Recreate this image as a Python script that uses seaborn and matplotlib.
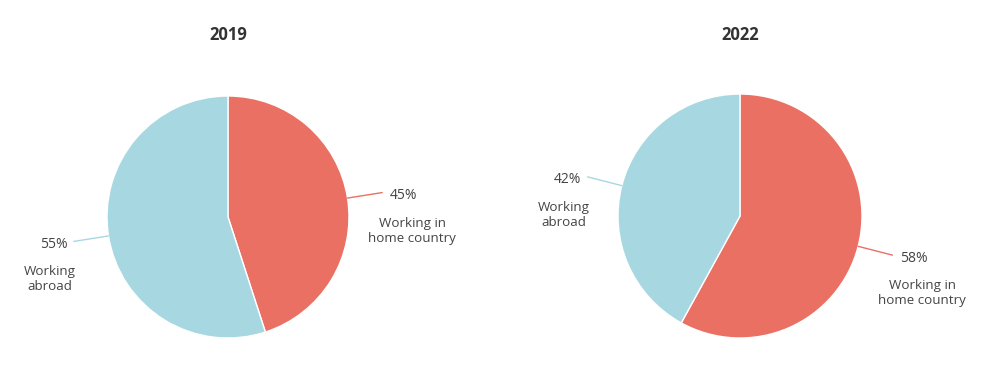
import numpy as np
import matplotlib
matplotlib.use("Agg")
import matplotlib.pyplot as plt
import seaborn as sns

# Share of workers by place of work
years = ["2019", "2022"]
categories = ["Working in\nhome country", "Working\nabroad"]
home_share = [45, 58]
abroad_share = [55, 42]

sns.set_theme(style="white")
plt.rcParams["font.family"] = ["Open Sans", "DejaVu Sans"]

palette = sns.color_palette(["#EA7064", "#A7D8E2"])
title_color = "#333333"
text_color = "#444444"

W, H = 994, 367
fig = plt.figure(figsize=(W / 100, H / 100), dpi=100)
fig.patch.set_facecolor("white")

# pixel layout of each panel: (left, right, centre x, centre y from top, radius)
panels = [
    (0, 490, 228, 217, 121),
    (497, 994, 740, 216, 122),
]

for i, (year, (x0, x1, cx, cy, r)) in enumerate(zip(years, panels)):
    ax = fig.add_axes([x0 / W, 0, (x1 - x0) / W, 1])
    cy_b = H - cy
    xlim = ((x0 - cx) / r, (x1 - cx) / r)
    ylim = (-cy_b / r, (H - cy_b) / r)

    values = [home_share[i], abroad_share[i]]
    wedges, _ = ax.pie(
        values,
        colors=palette,
        startangle=90,
        counterclock=False,
        radius=1,
        wedgeprops=dict(edgecolor="white", linewidth=1),
    )
    ax.set_xlim(*xlim)
    ax.set_ylim(*ylim)
    ax.set_aspect("auto")
    ax.axis("off")

    ax.text(0, ylim[1] - 35 / r, year, ha="center", va="center",
            fontsize=12, fontweight="bold", color=title_color)

    for w, val, cat, col in zip(wedges, values, categories, palette):
        ang = np.deg2rad((w.theta1 + w.theta2) / 2)
        p0 = np.array([np.cos(ang), np.sin(ang)])
        p1 = p0 * 1.29
        ax.plot([p0[0], p1[0]], [p0[1], p1[1]], color=col, lw=1)
        right = p1[0] >= 0
        if right:
            ax.annotate(f"{val}%", xy=p1, xytext=(8, -3), textcoords="offset pixels",
                        ha="left", va="center", fontsize=10, color=text_color)
            ax.annotate(cat, xy=p1, xytext=(30, -38), textcoords="offset pixels",
                        ha="center", va="center", fontsize=9.6, color=text_color,
                        linespacing=1.2)
        else:
            ax.annotate(f"{val}%", xy=p1, xytext=(-6, -3), textcoords="offset pixels",
                        ha="right", va="center", fontsize=10, color=text_color)
            ax.annotate(cat, xy=p1, xytext=(-24, -38), textcoords="offset pixels",
                        ha="center", va="center", fontsize=9.6, color=text_color,
                        linespacing=1.2)

fig.savefig("out.png", dpi=100, facecolor="white")
